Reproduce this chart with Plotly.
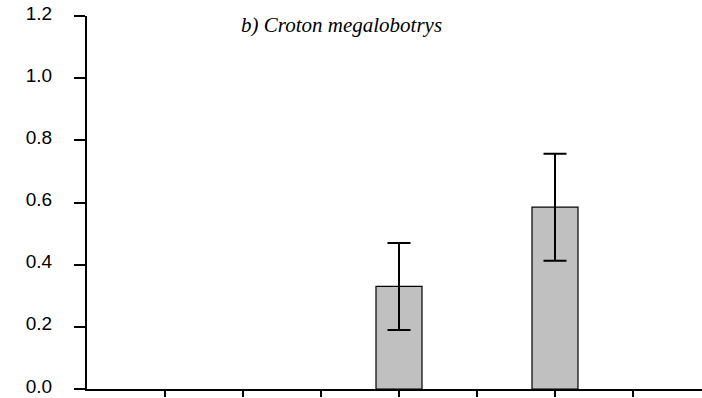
import plotly.graph_objects as go

positions = [1, 2, 3, 4, 5, 6, 7]
values = [None, None, None, 0.33, None, 0.585, None]
errors = [None, None, None, 0.14, None, 0.172, None]
y_ticks = [0.0, 0.2, 0.4, 0.6, 0.8, 1.0, 1.2]
y_labels = ["0.0", "0.2", "0.4", "0.6", "0.8", "1.0", "1.2"]
title_text = "b) Croton megalobotrys"

fig = go.Figure()
fig.add_trace(go.Bar(
    x=positions, y=values, width=0.59,
    marker=dict(color="#c0c0c0", line=dict(color="black", width=1.2)),
    error_y=dict(type="data", array=errors, visible=True,
                 color="black", thickness=2, width=11.5),
    showlegend=False,
))

fig.update_layout(
    width=702, height=398,
    margin=dict(l=87, r=0, t=16, b=9, autoexpand=False),
    plot_bgcolor="white", paper_bgcolor="white",
    font=dict(family="Liberation Sans, Arial", size=19, color="black"),
    xaxis=dict(range=[0, 615/78], tickvals=positions, ticktext=[""] * 7,
               showline=True, linecolor="black", linewidth=2,
               ticks="outside", ticklen=6, tickwidth=2, tickcolor="black",
               showgrid=False, zeroline=False, automargin=False),
    yaxis=dict(range=[0, 1.2], tickvals=y_ticks, ticktext=y_labels,
               showline=True, linecolor="black", linewidth=2,
               ticks="outside", ticklen=11, tickwidth=2, tickcolor="black",
               ticklabelstandoff=18, ticklabelshift=-3, ticklabeloverflow="allow",
               showgrid=False, zeroline=False, automargin=False),
    annotations=[dict(
        text=title_text, xref="paper", yref="paper",
        x=(341 - 87) / 615, y=(398 - 25 - 9) / 373, xanchor="center", yanchor="middle",
        showarrow=False,
        font=dict(family="Liberation Serif, Times New Roman", size=21, style="italic"),
    )],
)

fig.write_html("out.html")
